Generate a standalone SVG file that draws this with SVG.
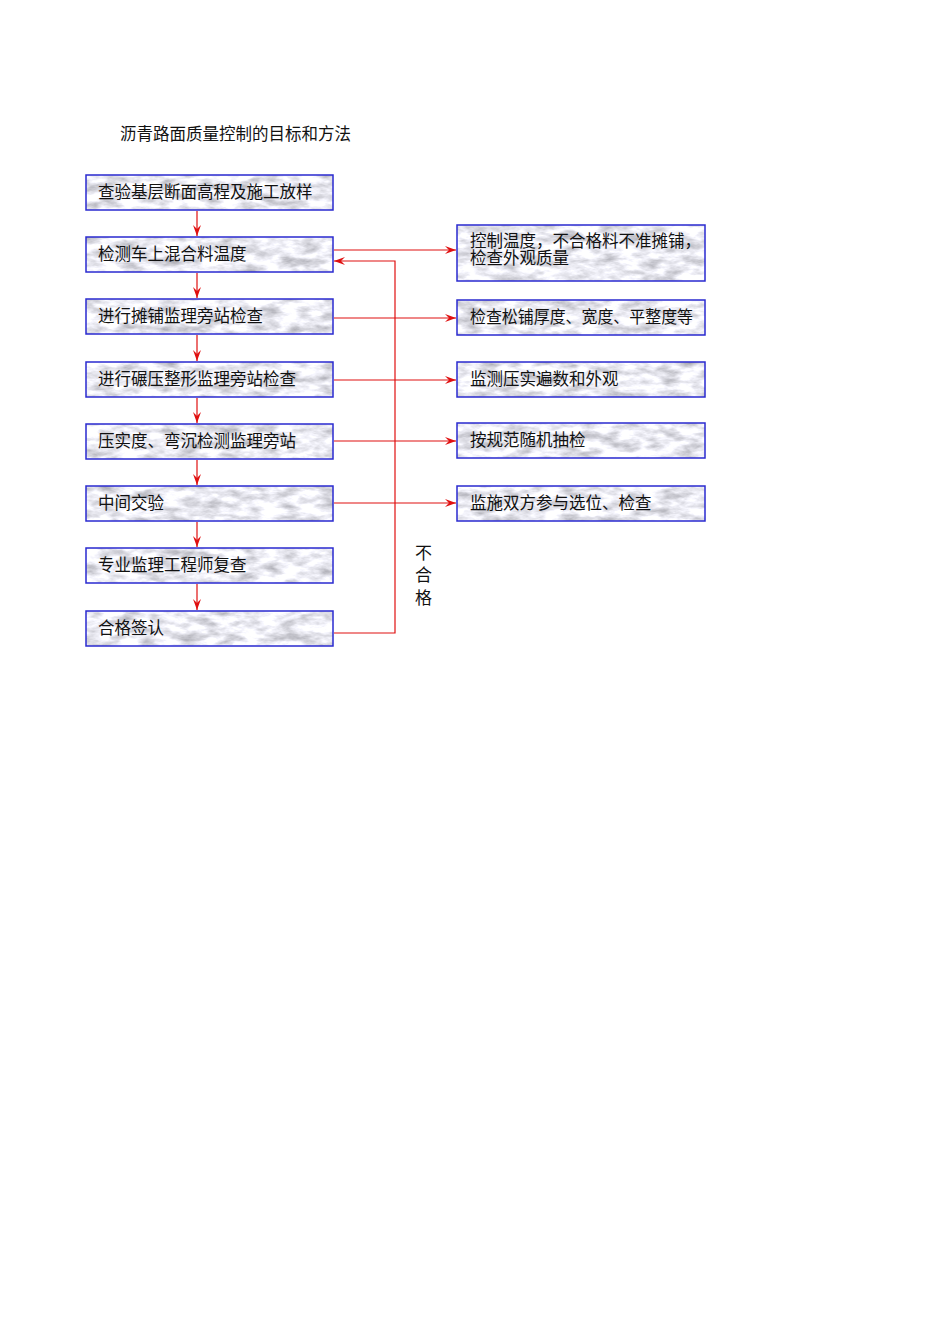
<svg xmlns="http://www.w3.org/2000/svg" width="950" height="1344" viewBox="0 0 950 1344">
<style>
text{font-family:"Liberation Serif","Noto Sans CJK SC",serif;font-size:16.5px;fill:#111}
.bg{filter:url(#marble)}
.bd{fill:none;stroke:#2a2ad0;stroke-width:1.5}
.c{fill:none;stroke:#e01010;stroke-width:1.2}
</style>
<defs>
<filter id="marble" x="0" y="0" width="100%" height="100%" color-interpolation-filters="sRGB">
<feTurbulence type="fractalNoise" baseFrequency="0.05 0.12" numOctaves="4" seed="7" result="n"/>
<feColorMatrix in="n" type="matrix" values="0.6 0 0 0 0.62  0.6 0 0 0 0.62  0.6 0 0 0 0.65  0 0 0 0 1" result="g"/>
<feComposite in="g" in2="SourceGraphic" operator="in"/>
</filter>
<marker id="ah" markerWidth="11" markerHeight="8" refX="11" refY="4" orient="auto" markerUnits="userSpaceOnUse">
<path d="M0,0 L11,4 L0,8 L4,4 Z" fill="#e01010"/>
</marker>
</defs>
<rect width="950" height="1344" fill="#fff"/>
<text x="120" y="140">沥青路面质量控制的目标和方法</text>
<g id="connectors">
<path class="c" d="M197,211 V236" marker-end="url(#ah)"/>
<path class="c" d="M197,273 V298" marker-end="url(#ah)"/>
<path class="c" d="M197,335 V361" marker-end="url(#ah)"/>
<path class="c" d="M197,398 V423" marker-end="url(#ah)"/>
<path class="c" d="M197,460 V485" marker-end="url(#ah)"/>
<path class="c" d="M197,522 V547" marker-end="url(#ah)"/>
<path class="c" d="M197,584 V610" marker-end="url(#ah)"/>
<path class="c" d="M334,250 H456" marker-end="url(#ah)"/>
<path class="c" d="M334,318 H456" marker-end="url(#ah)"/>
<path class="c" d="M334,380 H456" marker-end="url(#ah)"/>
<path class="c" d="M334,441 H456" marker-end="url(#ah)"/>
<path class="c" d="M334,503 H456" marker-end="url(#ah)"/>
<path class="c" d="M334,633 H395 V261 H334" marker-end="url(#ah)"/>
</g>
<g id="n1"><rect class="bg" x="86" y="175" width="247" height="35" fill="#ccc"/><rect class="bd" x="86" y="175" width="247" height="35"/><text x="98" y="198">查验基层断面高程及施工放样</text></g>
<g id="n2"><rect class="bg" x="86" y="237" width="247" height="35" fill="#ccc"/><rect class="bd" x="86" y="237" width="247" height="35"/><text x="98" y="260">检测车上混合料温度</text></g>
<g id="n3"><rect class="bg" x="86" y="299" width="247" height="35" fill="#ccc"/><rect class="bd" x="86" y="299" width="247" height="35"/><text x="98" y="322">进行摊铺监理旁站检查</text></g>
<g id="n4"><rect class="bg" x="86" y="362" width="247" height="35" fill="#ccc"/><rect class="bd" x="86" y="362" width="247" height="35"/><text x="98" y="385">进行碾压整形监理旁站检查</text></g>
<g id="n5"><rect class="bg" x="86" y="424" width="247" height="35" fill="#ccc"/><rect class="bd" x="86" y="424" width="247" height="35"/><text x="98" y="447">压实度、弯沉检测监理旁站</text></g>
<g id="n6"><rect class="bg" x="86" y="486" width="247" height="35" fill="#ccc"/><rect class="bd" x="86" y="486" width="247" height="35"/><text x="98" y="509">中间交验</text></g>
<g id="n7"><rect class="bg" x="86" y="548" width="247" height="35" fill="#ccc"/><rect class="bd" x="86" y="548" width="247" height="35"/><text x="98" y="571">专业监理工程师复查</text></g>
<g id="n8"><rect class="bg" x="86" y="611" width="247" height="35" fill="#ccc"/><rect class="bd" x="86" y="611" width="247" height="35"/><text x="98" y="634">合格签认</text></g>
<g id="r1"><rect class="bg" x="457" y="225" width="248" height="56" fill="#ccc"/><rect class="bd" x="457" y="225" width="248" height="56"/><text x="470" y="247">控制温度，不合格料不准摊铺，</text><text x="470" y="264">检查外观质量</text></g>
<g id="r2"><rect class="bg" x="457" y="300" width="248" height="35" fill="#ccc"/><rect class="bd" x="457" y="300" width="248" height="35"/><text x="470" y="323" textLength="223" lengthAdjust="spacingAndGlyphs">检查松铺厚度、宽度、平整度等</text></g>
<g id="r3"><rect class="bg" x="457" y="362" width="248" height="35" fill="#ccc"/><rect class="bd" x="457" y="362" width="248" height="35"/><text x="470" y="385">监测压实遍数和外观</text></g>
<g id="r4"><rect class="bg" x="457" y="423" width="248" height="35" fill="#ccc"/><rect class="bd" x="457" y="423" width="248" height="35"/><text x="470" y="446">按规范随机抽检</text></g>
<g id="r5"><rect class="bg" x="457" y="486" width="248" height="35" fill="#ccc"/><rect class="bd" x="457" y="486" width="248" height="35"/><text x="470" y="509">监施双方参与选位、检查</text></g>
<g id="label-buhege"><text x="415" y="559" style="font-size:17px">不</text><text x="415" y="581" style="font-size:17px">合</text><text x="415" y="604" style="font-size:17px">格</text></g>
</svg>
